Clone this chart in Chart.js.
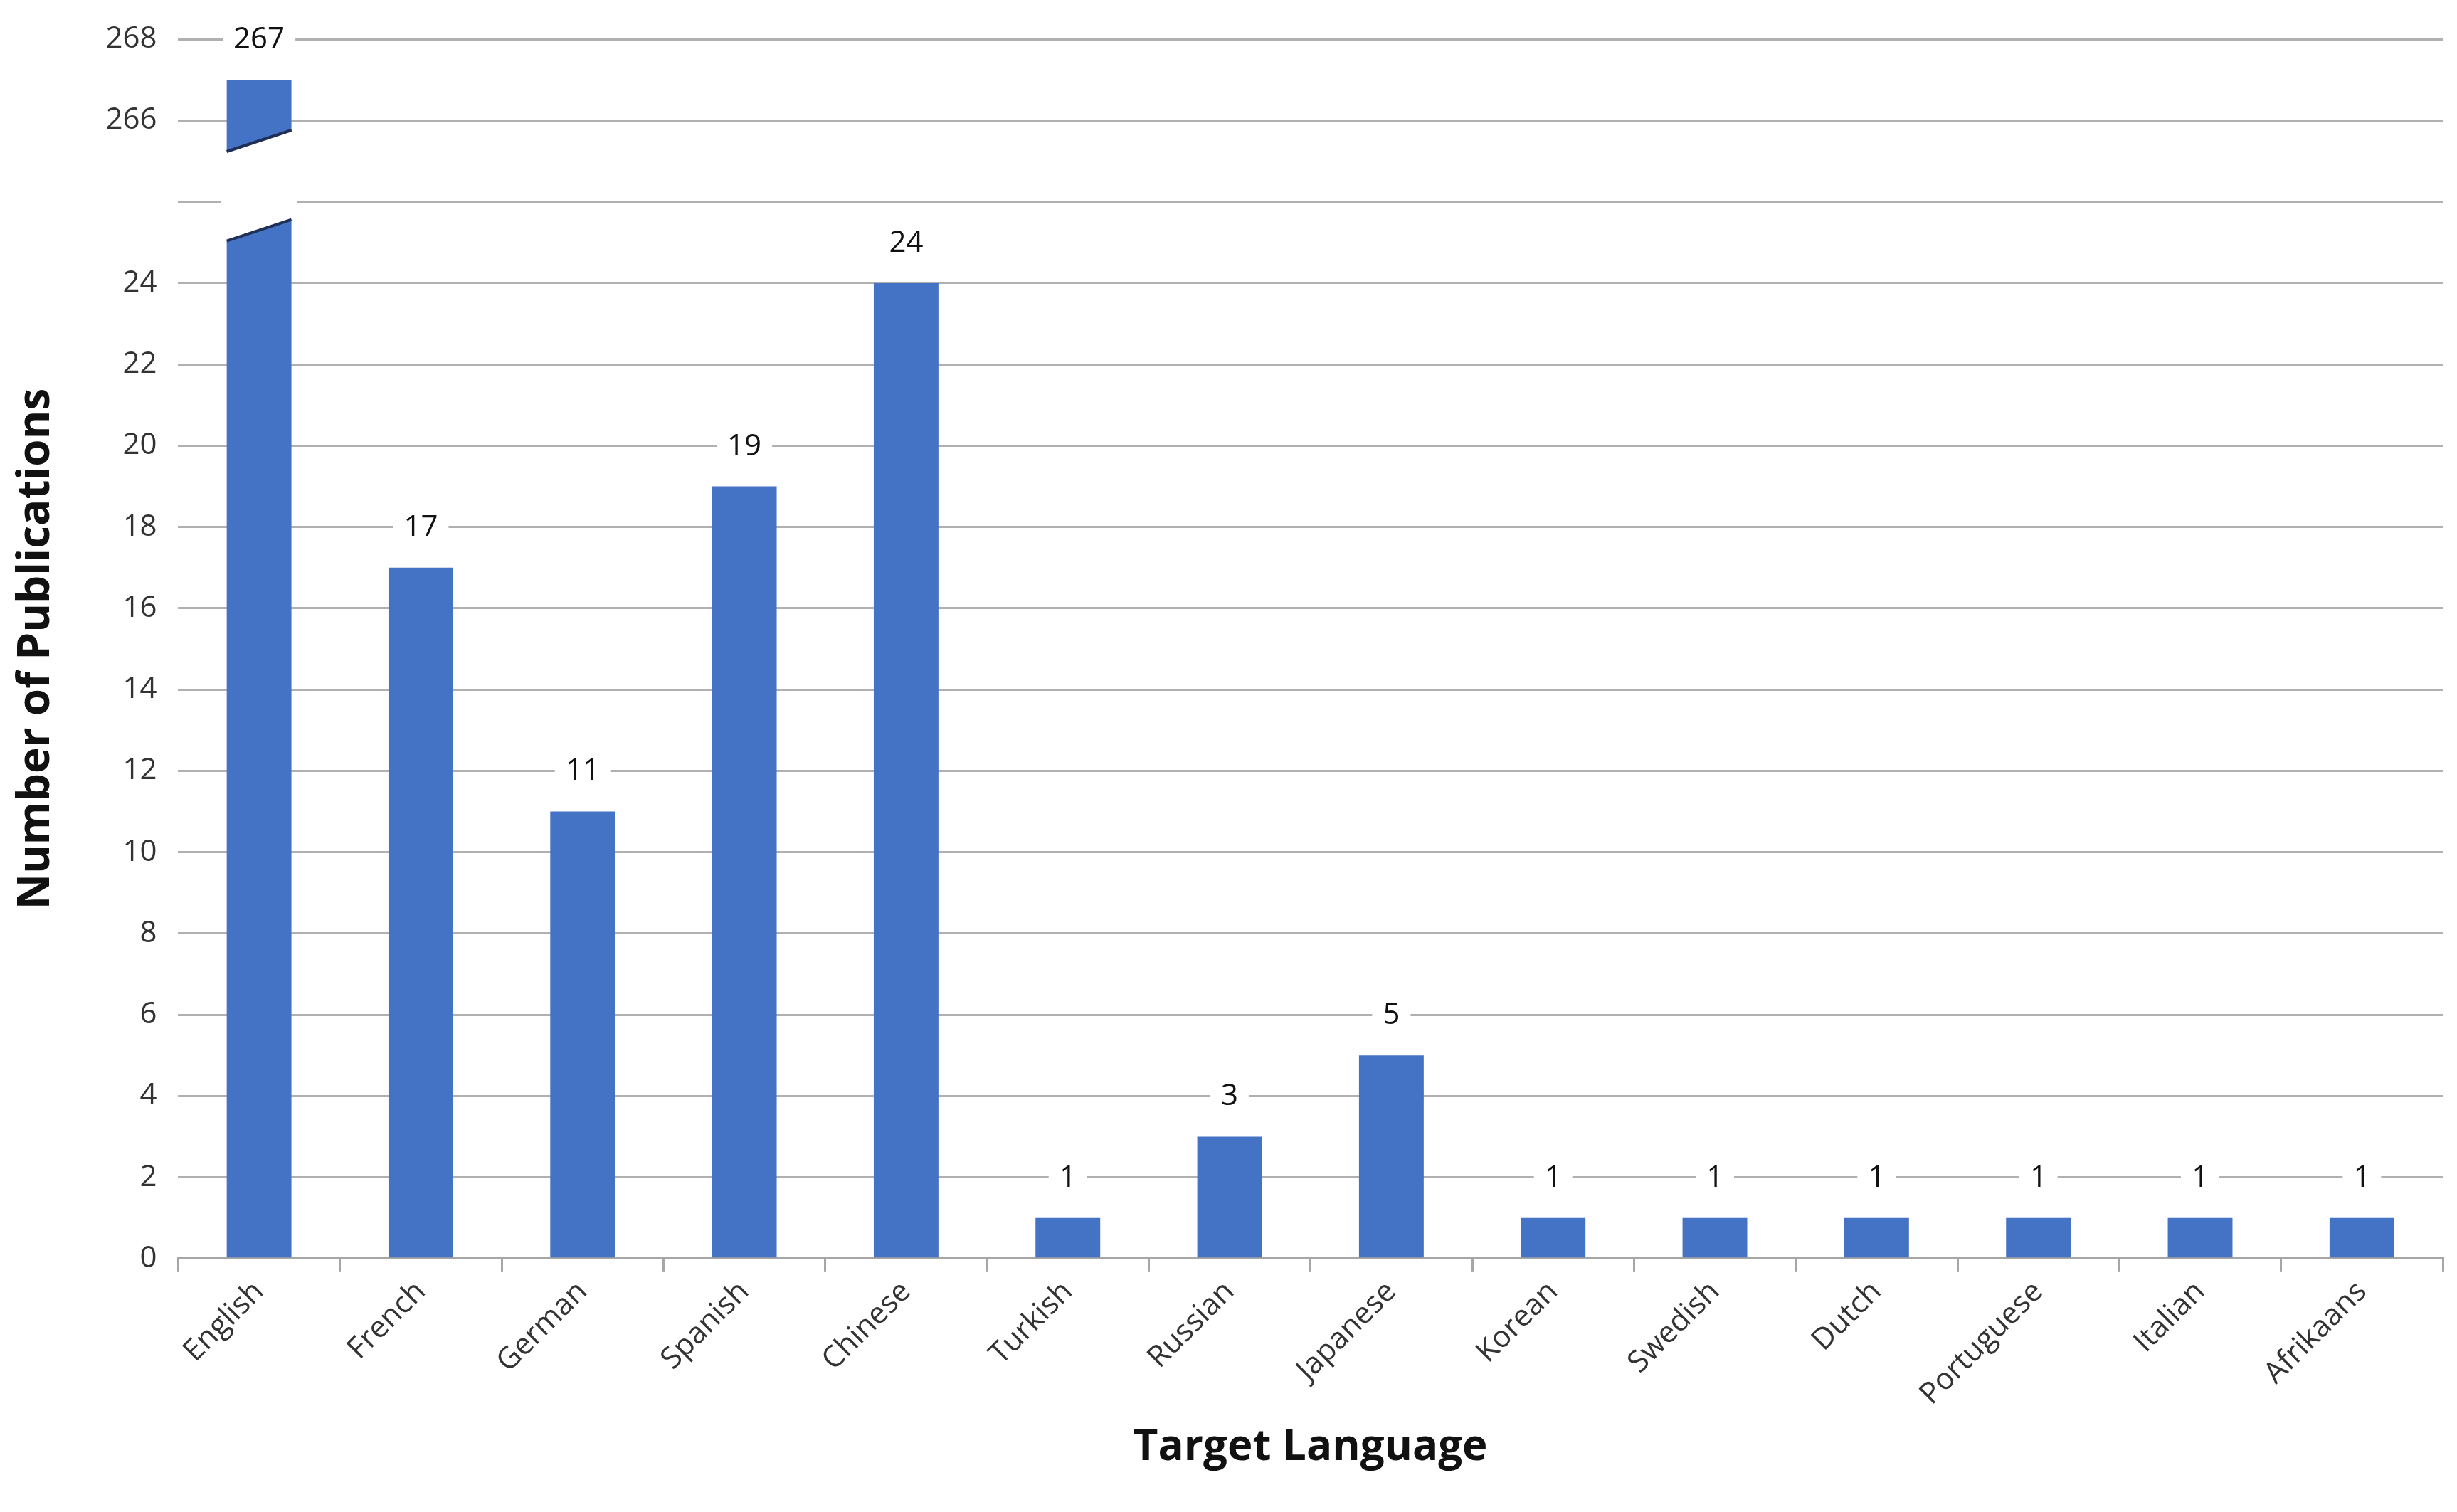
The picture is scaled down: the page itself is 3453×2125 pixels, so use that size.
<!DOCTYPE html>
<html>
<head>
<meta charset="utf-8">
<script src="https://cdn.jsdelivr.net/npm/chart.js@4/dist/chart.umd.min.js"></script>
<style>
  html, body { margin: 0; padding: 0; background: #fff; }
  #wrap { width: 3453px; height: 2125px; }
</style>
</head>
<body>
<div id="wrap"><canvas id="myChart"></canvas></div>
<script>
const languages = ["English", "French", "German", "Spanish", "Chinese", "Turkish", "Russian",
  "Japanese", "Korean", "Swedish", "Dutch", "Portuguese", "Italian", "Afrikaans"];
const publications = [267, 17, 11, 19, 24, 1, 3, 5, 1, 1, 1, 1, 1, 1];

// broken axis: values above the break are shifted down onto the scale
const breakShift = 238;
const upperTicks = { 28: "266", 30: "268" };
const toScale = (v) => (v > 26 ? v - breakShift : v);

const FONT = "'Open Sans', 'Liberation Sans', sans-serif";
const TEXT = "#333";

const labelsPlugin = {
  id: "valueLabels",
  afterDatasetsDraw(chart) {
    const ctx = chart.ctx;
    const meta = chart.getDatasetMeta(0);
    const yScale = chart.scales.y;
    ctx.save();
    // break on the first bar
    const bar = meta.data[0];
    const l = bar.x - bar.width / 2 - 8, r = bar.x + bar.width / 2 + 8;
    const yTop = yScale.getPixelForValue(27.5), yBot = yScale.getPixelForValue(25.3);
    const slant = 16;
    ctx.fillStyle = "#fff";
    ctx.beginPath();
    ctx.moveTo(l, yTop + slant);
    ctx.lineTo(r, yTop - slant);
    ctx.lineTo(r, yBot - slant);
    ctx.lineTo(l, yBot + slant);
    ctx.closePath();
    ctx.fill();
    ctx.strokeStyle = "#1f2f55";
    ctx.lineWidth = 4;
    ctx.beginPath();
    ctx.moveTo(l + 8, yTop + slant - 1);
    ctx.lineTo(r - 8, yTop - slant + 1);
    ctx.moveTo(l + 8, yBot + slant - 1);
    ctx.lineTo(r - 8, yBot - slant + 1);
    ctx.stroke();

    ctx.font = "42px " + FONT;
    ctx.textAlign = "center";
    ctx.textBaseline = "middle";
    meta.data.forEach((el, i) => {
      const txt = String(publications[i]);
      const y = el.y - 56;
      const w = ctx.measureText(txt).width + 30;
      ctx.fillStyle = "#fff";
      ctx.fillRect(el.x - w / 2, y - 22, w, 44);
      ctx.fillStyle = "#111";
      ctx.fillText(txt, el.x, y);
    });
    ctx.restore();
  }
};

new Chart(document.getElementById("myChart"), {
  type: "bar",
  data: {
    labels: languages,
    datasets: [{
      data: publications.map(toScale),
      backgroundColor: "#4472C4",
      barPercentage: 0.4,
      categoryPercentage: 1.0
    }]
  },
  options: {
    responsive: true,
    maintainAspectRatio: false,
    devicePixelRatio: 1,
    animation: false,
    layout: { padding: { left: 10, right: 20, top: 10, bottom: 50 } },
    plugins: { legend: { display: false }, tooltip: { enabled: false } },
    scales: {
      x: {
        grid: { display: true, drawOnChartArea: false, offset: true, color: "#a6a6a6", lineWidth: 3, tickLength: 18 },
        border: { display: true, color: "#a6a6a6", width: 3 },
        ticks: { color: TEXT, font: { size: 42, family: FONT }, maxRotation: 45, minRotation: 45, padding: 4 },
        title: { display: true, text: "Target Language", color: "#111", font: { size: 60, weight: "bold", family: FONT }, padding: { top: 10 } }
      },
      y: {
        min: 0, max: 30,
        grid: { color: "#b0b0b0", lineWidth: 3, drawTicks: false },
        border: { display: false },
        ticks: {
          stepSize: 2, color: TEXT, padding: 30, font: { size: 42, family: FONT },
          callback: (v) => (v <= 24 ? String(v) : (upperTicks[v] || ""))
        },
        title: { display: true, text: "Number of Publications", color: "#111", font: { size: 62, weight: "bold", family: FONT }, padding: { bottom: 30 } }
      }
    }
  },
  plugins: [labelsPlugin]
});
</script>
</body>
</html>
